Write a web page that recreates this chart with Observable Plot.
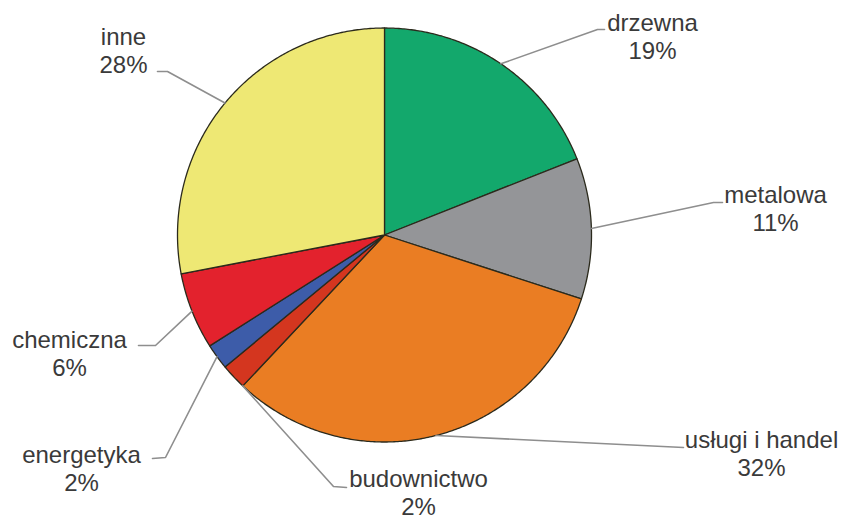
<!DOCTYPE html>
<html><head><meta charset="utf-8">
<script src="https://cdn.jsdelivr.net/npm/d3@7"></script>
<script src="https://cdn.jsdelivr.net/npm/@observablehq/plot@0.6"></script>
<style>body{margin:0;background:#fff} svg{display:block}</style>
</head><body><div id="chart"></div>
<script>
// Data
const categories = ["drzewna", "metalowa", "usługi i handel", "budownictwo", "energetyka", "chemiczna", "inne"];
const shares = [19, 11, 32, 2, 2, 6, 28];
const colors = ["#13a86c", "#949598", "#ea7d23", "#d4361f", "#3d5ca9", "#e3222d", "#eee874"];

// Layout (pixels): label anchor (center x, baseline of last line) and leader-line bend points
const labelX = [652, 775, 761, 418, 81, 69, 123];
const labelY = [58, 230, 475, 514, 490, 375, 72];
const leaderBends = [
  [[597, 29], [604, 29]],
  [[713, 202], [722, 202]],
  [[683, 447]],
  [[333, 486], [346, 487]],
  [[165, 457], [152, 458]],
  [[155, 345], [138, 345]],
  [[167, 71], [157, 71]]
];
const leaderAtBoundary = [false, false, false, true, false, false, false];
const cx = 384, cy = 234.5, R = 207;

const total = d3.sum(shares);
const pt = (frac, r = R) => {
  const t = frac * 2 * Math.PI;
  return [cx + r * Math.sin(t), cy - r * Math.cos(t)];
};

// slice polygons
const slicePts = [];
const leaderPts = [];
let acc = 0;
categories.forEach((name, i) => {
  const a0 = acc / total, a1 = (acc + shares[i]) / total;
  acc += shares[i];
  slicePts.push({name, x: cx, y: cy, o: 0});
  const n = Math.max(4, Math.ceil((a1 - a0) * 720));
  for (let k = 0; k <= n; k++) {
    const [x, y] = pt(a0 + (a1 - a0) * k / n);
    slicePts.push({name, x, y, o: k + 1});
  }
  slicePts.push({name, x: cx, y: cy, o: n + 2});
  const start = leaderAtBoundary[i] ? pt(a0) : pt((a0 + a1) / 2);
  leaderPts.push({name, x: start[0], y: start[1]});
  leaderBends[i].forEach(([x, y]) => leaderPts.push({name, x, y}));
});

const labels = categories.map((name, i) => ({
  name, text: name + "\n" + shares[i] + "%", x: labelX[i], y: labelY[i]
}));

const chart = Plot.plot({
  width: 842,
  height: 520,
  margin: 0,
  x: {domain: [0, 842], range: [0, 842], axis: null},
  y: {domain: [0, 520], range: [0, 520], axis: null},
  color: {domain: categories, range: colors},
  style: {background: "#fff", fontFamily: "'Liberation Sans', Arial, sans-serif"},
  marks: [
    Plot.line(slicePts, {x: "x", y: "y", z: "name", fill: "name", stroke: "#2b2a1c", strokeWidth: 1.3, strokeLinejoin: "round", curve: "linear"}),
    Plot.line(leaderPts, {x: "x", y: "y", z: "name", stroke: "#8e8e8e", strokeWidth: 1.6, curve: "linear"}),
    Plot.text(labels, {x: "x", y: "y", text: "text", lineAnchor: "bottom", lineHeight: 1.15, textAnchor: "middle", fontSize: 24, fill: "#3a3a3a"})
  ]
});
document.getElementById("chart").append(chart);
</script>
</body></html>
